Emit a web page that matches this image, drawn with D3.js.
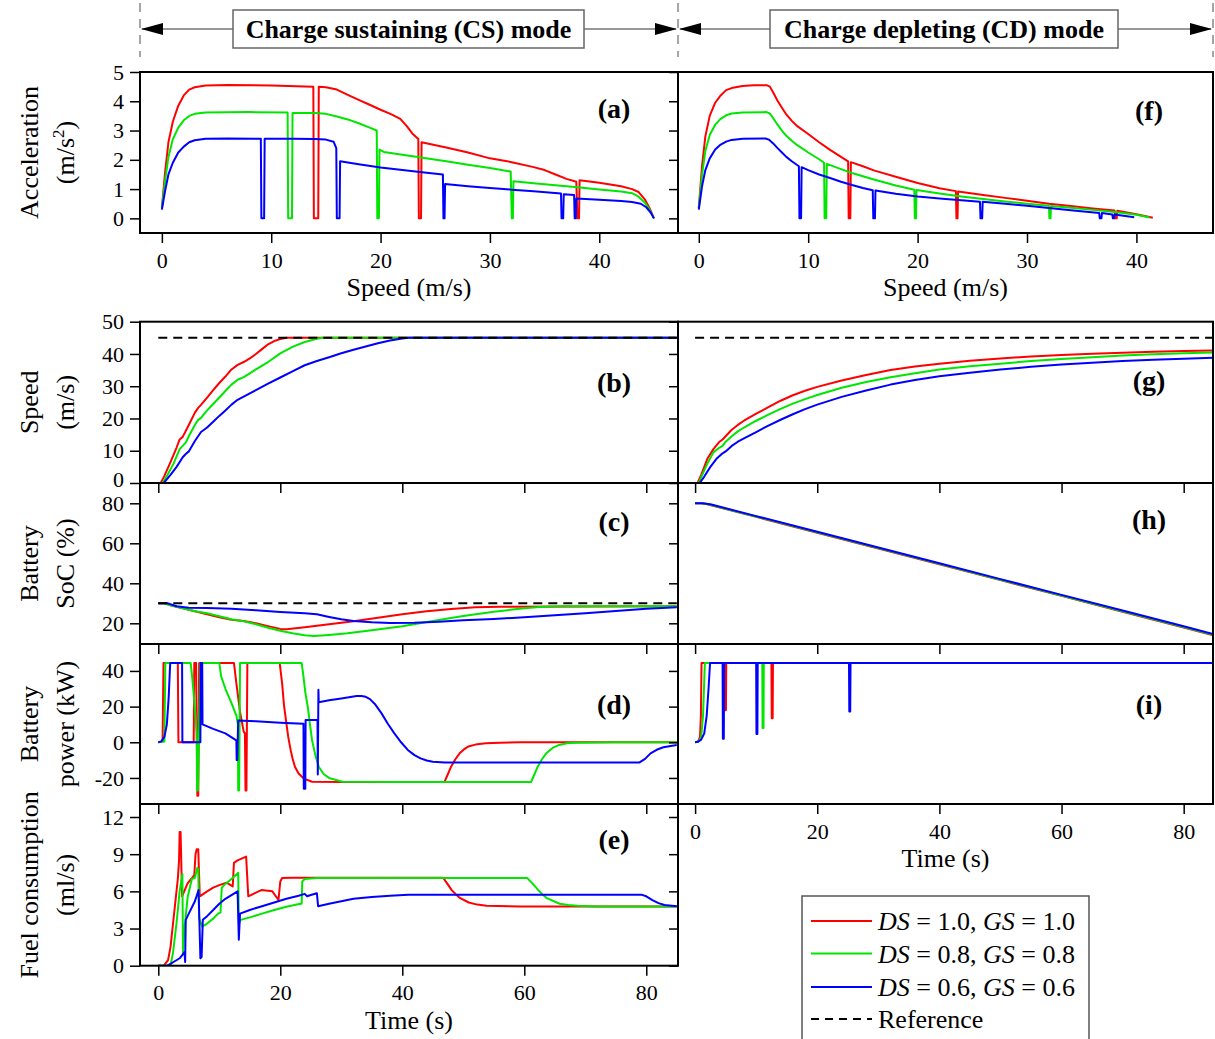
<!DOCTYPE html>
<html>
<head>
<meta charset="utf-8">
<script src="https://cdn.jsdelivr.net/npm/d3@7"></script>
<style>
  body { margin: 0; background: #fff; }
  svg text { font-family: "Liberation Serif", "Times New Roman", serif; fill: #000; }
</style>
</head>
<body>
<div id="graph"></div>
<script>
// ---------------- data ----------------
// scenario settings: DS = GS
let scenarioValues = ["1.0", "0.8", "0.6"];
let seriesColors = ["#ff0000", "#00e600", "#0000ff"];

// reference targets
let refSpeed = 45;
let refSoC = 30;
let refSpan = [0, 85];

// (a) CS acceleration vs speed
let accelCS_red = [[0,0.35],[0.3,1.6],[0.6,2.6],[1,3.3],[1.5,3.85],[2,4.2],[2.5,4.4],[3,4.48],[4,4.54],[6,4.56],[10,4.54],[13.85,4.5],[13.9,0],[14.3,0],[14.35,4.5],[15,4.48],[16,4.4],[17,4.22],[18,4.05],[19,3.88],[20,3.71],[21,3.55],[21.8,3.4],[22.4,3.15],[22.9,2.9],[23.3,2.76],[23.45,2.72],[23.5,0],[23.7,0],[23.75,2.6],[26,2.42],[28,2.25],[30,2.05],[32,1.92],[34,1.75],[35,1.65],[36,1.5],[37,1.35],[37.9,1.25],[38,0],[38.15,0],[38.2,1.3],[40,1.22],[42,1.1],[43,1.0],[43.6,0.9],[44.2,0.63],[44.6,0.35],[45,0]];
let accelCS_green = [[0,0.35],[0.3,1.3],[0.6,2.1],[1,2.7],[1.5,3.1],[2,3.35],[2.5,3.5],[3,3.57],[4,3.62],[8,3.63],[11.5,3.62],[11.55,0],[11.9,0],[11.95,3.6],[14,3.6],[15,3.57],[16,3.48],[17,3.38],[18,3.25],[19,3.1],[19.65,3.0],[19.7,0],[19.85,0],[19.9,2.35],[20.3,2.27],[22,2.17],[24,2.06],[26,1.95],[28,1.83],[30,1.72],[31.9,1.6],[32,0],[32.1,0],[32.15,1.27],[34,1.2],[36,1.13],[38,1.06],[40,0.99],[42,0.92],[43,0.86],[43.6,0.74],[44.2,0.52],[44.6,0.3],[45,0]];
let accelCS_blue = [[0,0.3],[0.3,0.95],[0.6,1.5],[1,1.9],[1.5,2.25],[2,2.45],[2.5,2.6],[3,2.67],[4,2.72],[6,2.73],[9.05,2.72],[9.1,0],[9.35,0],[9.4,2.72],[12,2.72],[14,2.71],[15,2.69],[15.7,2.62],[15.95,2.4],[16,0],[16.25,0],[16.3,1.95],[18,1.85],[20,1.74],[22,1.65],[24,1.57],[25.7,1.5],[25.75,0],[25.85,0],[25.9,1.17],[28,1.1],[30,1.04],[32,0.98],[34,0.93],[36.5,0.85],[36.55,0],[36.7,0],[36.75,0.82],[37.7,0.8],[37.75,0],[37.85,0],[37.9,0.68],[40,0.64],[42,0.59],[43,0.56],[43.8,0.5],[44.3,0.38],[44.7,0.2],[45,0]];

// (f) CD acceleration vs speed
let accelCD_red = [[0,0.35],[0.3,1.8],[0.6,2.8],[1,3.5],[1.5,3.95],[2,4.2],[2.5,4.38],[3,4.45],[4,4.52],[5,4.55],[6.2,4.55],[6.5,4.5],[6.8,4.3],[7.2,4.02],[7.6,3.78],[8,3.55],[8.5,3.33],[9,3.15],[10,2.88],[11,2.6],[12,2.34],[13,2.1],[13.65,1.95],[13.7,0],[13.85,0],[13.9,1.92],[15,1.78],[16,1.64],[18,1.42],[20,1.21],[22,1.03],[23.5,0.93],[23.55,0],[23.65,0],[23.7,0.92],[26,0.8],[28,0.7],[30,0.6],[32,0.5],[34,0.42],[36,0.34],[38,0.27],[38.05,0],[38.2,0],[38.25,0.26],[40,0.14],[41.5,0.02]];
let accelCD_green = [[0,0.35],[0.3,1.5],[0.6,2.3],[1,2.85],[1.5,3.2],[2,3.4],[2.5,3.52],[3,3.58],[4,3.62],[6.2,3.63],[6.5,3.58],[6.8,3.42],[7.2,3.2],[7.6,3.0],[8,2.82],[8.5,2.65],[9,2.5],[10,2.25],[11,2.02],[11.45,1.9],[11.5,0],[11.65,0],[11.7,1.86],[13,1.68],[14,1.55],[16,1.33],[18,1.12],[19.7,0.98],[19.75,0],[19.85,0],[19.9,0.97],[22,0.85],[24,0.75],[26,0.66],[28,0.58],[30,0.5],[32,0.43],[32.05,0],[32.15,0],[32.2,0.42],[34,0.36],[36,0.29],[38,0.22],[40,0.12],[41.2,0.03]];
let accelCD_blue = [[0,0.3],[0.3,1.1],[0.6,1.65],[1,2.05],[1.5,2.35],[2,2.52],[2.5,2.62],[3,2.68],[4,2.72],[6.1,2.73],[6.4,2.69],[6.8,2.56],[7.2,2.4],[7.6,2.25],[8,2.1],[8.5,1.95],[9.15,1.78],[9.2,0],[9.35,0],[9.4,1.75],[10,1.65],[11,1.5],[12,1.38],[13,1.25],[14,1.14],[15,1.04],[15.9,0.96],[15.95,0],[16.1,0],[16.15,0.95],[18,0.84],[20,0.75],[22,0.68],[24,0.62],[25.7,0.57],[25.75,0],[25.9,0],[25.95,0.57],[28,0.5],[30,0.43],[32,0.35],[34,0.28],[36.6,0.18],[36.65,0],[36.8,0],[36.85,0.18],[37.8,0.13],[37.85,0],[37.95,0],[38,0.13],[39.8,0.04]];

// (b) CS speed vs time
let speedCS_red = [[0.4,0],[1,2.2],[2,6.5],[3,11],[3.5,13.5],[4,14.3],[5,18],[6,21.8],[6.5,23.2],[7,24.2],[8,26.5],[9,28.8],[10,31],[11,33],[12,35.2],[13,36.6],[14,37.5],[15,38.6],[16,40],[17,41.5],[18,43],[19,44],[20,44.6],[21,45],[85,45]];
let speedCS_green = [[0.7,0],[1.5,2.5],[2.5,6],[3.5,10.5],[4,11.5],[4.5,12.5],[5,14.5],[6,18],[6.5,19.5],[7,20.2],[8,22.5],[9,24.5],[10,26.5],[11,28.5],[12,30.5],[13,32],[14,32.8],[15,34],[16,35.2],[18,37.5],[20,40.2],[22,42.2],[24,43.7],[26,44.7],[27,45],[85,45]];
let speedCS_blue = [[0.9,0],[2,2.5],[3,5],[4,8],[4.5,9],[5,9.8],[6,13],[7,15.8],[8,17.2],[9,19],[10,20.8],[11,22.5],[12,24.3],[13,25.8],[14,26.8],[16,28.8],[18,30.8],[20,32.7],[22,34.6],[24,36.5],[26,37.8],[28,39],[30,40.2],[32,41.3],[34,42.3],[36,43.3],[38,44.2],[40,44.8],[41,45],[85,45]];

// (g) CD speed vs time
let speedCD_red = [[0.4,0],[1,2.5],[1.5,5],[2,7.5],[3,10.5],[4,12.8],[4.5,13.5],[5,14.5],[6,16.5],[7,18],[8,19.3],[10,21.5],[12,23.5],[14,25.5],[16,27.2],[18,28.6],[20,29.8],[24,31.8],[28,33.5],[32,35],[36,36.1],[40,37],[45,37.9],[50,38.6],[55,39.2],[60,39.7],[65,40.1],[70,40.4],[75,40.7],[80,40.9],[85,41.1]];
let speedCD_green = [[0.6,0],[1,1.8],[2,6],[3,9.5],[4,11],[4.5,11.5],[5,12.8],[6,14.5],[7,16],[8,17.2],[10,19.3],[12,21.2],[14,23],[16,24.6],[18,26],[20,27.3],[24,29.5],[28,31.3],[32,32.8],[36,34],[40,35.2],[45,36.2],[50,37],[55,37.8],[60,38.4],[65,39],[70,39.5],[75,39.9],[80,40.2],[85,40.5]];
let speedCD_blue = [[0.75,0],[1.5,2],[2.5,5],[3.5,7.5],[4.5,9.2],[5,9.8],[6,11.5],[7,12.8],[8,13.8],[10,15.8],[12,17.8],[14,19.6],[16,21.3],[18,22.9],[20,24.3],[24,26.7],[28,28.7],[32,30.5],[36,31.9],[40,33.1],[45,34.2],[50,35.2],[55,36],[60,36.7],[65,37.3],[70,37.8],[75,38.2],[80,38.5],[85,38.8]];

// (c) CS battery SoC
let socCS_red = [[0,30],[1,30],[2,29],[4,27.5],[6,26],[8,24.5],[10,23],[12,21.8],[14,21.2],[16,20],[18,18.6],[20,17.2],[21,17],[24,18],[28,19.5],[32,21],[36,22.8],[40,24.5],[44,26],[48,27.2],[52,28],[56,28.3],[85,28.5]];
let socCS_green = [[0,30],[1,30],[2,29],[4,27.5],[6,26],[8,25],[10,23.5],[12,22],[14,21],[16,19.5],[18,17.8],[20,16.3],[22,15],[24,14],[25.5,13.7],[28,14.2],[31,15],[35,16.5],[40,18.5],[45,21.2],[50,23.6],[55,25.8],[60,27.5],[63,28.3],[66,28.5],[85,28.5]];
let socCS_blue = [[0,30],[1.5,30],[3,28.5],[5,27.8],[8,27.7],[12,27.3],[16,26.5],[20,25.7],[24,25],[26,24.5],[28,23.2],[30,22],[32,21.2],[35,20.5],[38,20.2],[42,20.3],[46,20.8],[50,21.5],[55,22.2],[60,23],[65,24],[70,25],[75,26.2],[80,27.3],[85,28]];

// (h) CD battery SoC
let socCD_red = [[0,80],[1,80],[2,79.5],[10,73.2],[20,65.3],[30,57.4],[40,49.5],[50,41.6],[60,33.7],[70,25.8],[80,17.9],[85,13.9]];
let socCD_green = [[0,80],[1,80],[2,79.6],[10,73.4],[20,65.5],[30,57.6],[40,49.7],[50,41.8],[60,33.9],[70,26],[80,18.1],[85,14.1]];
let socCD_blue = [[0,80],[1.2,80],[2.5,79.5],[10,73.6],[20,65.8],[30,57.9],[40,50],[50,42.1],[60,34.2],[70,26.4],[80,18.5],[85,14.5]];

// (d) CS battery power
let powerCS_red = [[0,0],[0.7,0.5],[0.85,44.5],[3.2,44.5],[3.3,0],[5.8,0],[5.9,44.5],[6.2,44.5],[6.4,-30],[6.55,-30],[6.7,44.5],[12.4,44.5],[12.8,33],[13.4,17],[14,6],[14.2,5],[14.3,-27],[14.45,-27],[14.6,44.5],[19.9,44.5],[20.3,33],[20.6,21],[21,10.6],[21.3,3],[21.7,-4.4],[22,-9],[22.4,-13.7],[23,-17.5],[23.8,-20.2],[25.2,-22.1],[30,-22.3],[46.9,-22.3],[47.4,-18.5],[48,-13.7],[48.7,-9.5],[49.4,-6.2],[50.1,-4],[50.8,-2.4],[52,-1.3],[53.7,-0.6],[56,-0.2],[59.3,0],[85,0]];
let powerCS_green = [[0,0],[1,0.5],[1.15,44.5],[5.3,44.5],[5.6,35],[6.1,15],[6.3,5],[6.35,-27],[6.5,-27],[6.9,44.5],[10,44.5],[10.3,37],[11,30],[12,22],[12.8,15],[13.05,10],[13.1,-27],[13.25,-27],[13.4,44.5],[23.5,44.5],[23.8,36.8],[24.1,28],[24.5,20],[24.9,9],[25.2,1.3],[25.7,-6.5],[26.3,-13.7],[27.1,-17.8],[28.1,-20.2],[30.2,-22.1],[40,-22.3],[61.1,-22.3],[61.6,-18.5],[62.2,-13.7],[62.9,-9.5],[63.6,-6.2],[64.6,-3.3],[65.7,-1.5],[67,-0.6],[68.6,-0.2],[75,0],[85,0]];
let powerCS_blue = [[0,0],[0.5,0.5],[1,3],[1.4,10],[1.7,25],[1.95,44.5],[3.9,44.5],[3.95,0],[6.9,0],[6.95,44.5],[7.2,44.5],[7.25,10],[9,7.5],[11,5],[12.6,1.5],[12.8,1],[12.85,-10],[12.95,-10],[13.1,12.2],[16,11.8],[20,11],[23.8,10.4],[23.85,-26],[24.1,-26],[24.15,12.5],[26.1,12.5],[26.15,-18],[26.25,29.5],[26.3,22.5],[28,23.6],[30,24.6],[31.5,25.4],[32.5,25.9],[33.3,26],[34,25.5],[34.7,24.2],[35.5,21.5],[36.6,16.2],[37.6,10.5],[38.7,5],[39.8,0],[40.9,-4.3],[42,-7.2],[43,-9],[44,-10.2],[45,-10.9],[47,-11.3],[78.9,-11.3],[79.8,-9.3],[80.7,-6.2],[81.7,-4.2],[82.8,-2.8],[85,-1.5]];

// (i) CD battery power
let powerCD_red = [[0,0],[0.5,0.5],[0.8,3],[0.95,15],[1.05,44.5],[4.85,44.5],[4.9,18],[5.05,18],[5.1,44.5],[12.5,44.5],[12.55,13.5],[12.7,13.5],[12.75,44.5],[85,44.5]];
let powerCD_green = [[0,0],[0.6,0.5],[1,3],[1.3,15],[1.6,44.5],[11,44.5],[11.05,8],[11.2,8],[11.25,44.5],[85,44.5]];
let powerCD_blue = [[0,0],[0.5,0.3],[1,1.5],[1.5,5],[1.9,15],[2.2,30],[2.45,44.5],[4.5,44.5],[4.55,2],[4.7,2],[4.75,44.5],[10,44.5],[10.05,4.7],[10.2,4.7],[10.25,44.5],[25.2,44.5],[25.25,17.3],[25.4,17.3],[25.45,44.5],[85,44.5]];

// (e) CS fuel consumption
let fuelCS_red = [[0,0],[0.9,0],[1.6,0.45],[2,1.5],[3.2,7],[3.4,8.5],[3.5,10.8],[3.65,10.8],[3.9,5.6],[4.8,6.65],[5.9,7.3],[6.1,9.0],[6.3,9.4],[6.55,9.4],[6.8,5.6],[8,6.0],[9,6.3],[10,6.5],[11.2,6.7],[12.2,6.4],[12.4,8.3],[13,8.5],[14.4,8.8],[14.75,5.6],[16,5.9],[16.9,6.1],[18,6.05],[18.7,6.0],[19.7,5.3],[20,6.8],[20.3,7.07],[22,7.1],[46.7,7.1],[47.4,6.6],[48.1,6.1],[48.8,5.75],[49.5,5.45],[50.9,5.1],[52.3,4.93],[53.8,4.83],[59.4,4.77],[85,4.77]];
let fuelCS_green = [[0,0],[2,0],[2.4,1],[3,3.5],[3.5,6],[3.95,7.4],[4.05,1],[4.3,3],[4.8,5.5],[5.5,7],[6,7.1],[6.2,7.5],[6.4,7.9],[6.55,7.8],[6.7,3.8],[7.2,3.15],[8,3.4],[9,3.8],[9.8,4.2],[10.2,4.3],[10.4,6.3],[11,6.6],[12,7],[13.1,7.5],[13.2,3.4],[13.5,3.7],[15,3.9],[17,4.2],[19,4.5],[21,4.75],[23.3,5],[23.5,5],[23.6,6.8],[24,7],[26,7.07],[60.5,7.07],[61.4,6.6],[62.3,6.1],[63,5.75],[63.7,5.45],[65.8,5],[67.2,4.9],[68.7,4.83],[72,4.78],[85,4.77]];
let fuelCS_blue = [[0,0],[1.5,0],[2.5,0.3],[3.5,0.6],[4.3,1.1],[4.4,0.3],[4.5,3.7],[5,4.2],[6,5.2],[6.6,6.1],[6.9,0.6],[7.1,0.7],[7.3,3.7],[8,4],[9,4.5],[10,5],[11,5.4],[12,5.7],[13,6],[13.2,2.1],[13.4,4.2],[15,4.5],[17,4.8],[19,5.1],[21,5.4],[23,5.65],[24,5.8],[24.4,5.6],[25,5.7],[26,5.85],[26.2,4.8],[28,5],[30,5.2],[32,5.4],[35,5.55],[38,5.65],[41,5.72],[79.3,5.72],[80,5.6],[81,5.3],[82,5.05],[83,4.9],[85,4.8]];

// tick values
let accelTicks = [0, 1, 2, 3, 4, 5];
let speedAxisTicks = [0, 10, 20, 30, 40];
let speedTicks = [0, 10, 20, 30, 40, 50];
let socTicks = [20, 40, 60, 80];
let powerTicks = [-20, 0, 20, 40];
let fuelTicks = [0, 3, 6, 9, 12];
let timeTicks = [0, 20, 40, 60, 80];

// ---------------- layout ----------------
let W = 1215, H = 1039;
let leftX0 = 140, midX = 678, rightX1 = 1213;

let svg = d3.select("#graph").append("svg").attr("width", W).attr("height", H);

let panels = [
  { id: "a", x0: leftX0, x1: midX, y0: 72, y1: 233, xDom: [-2, 47.2], yDom: [-0.5, 5],
    yTicks: accelTicks, xTicks: speedAxisTicks, xLabels: true, xTitle: "Speed (m/s)",
    yTitle: ["Acceleration", "(m/s2)"], label: "(a)", labFrac: 0.23,
    series: [accelCS_red, accelCS_green, accelCS_blue] },
  { id: "f", x0: midX, x1: rightX1, y0: 72, y1: 233, xDom: [-1.9, 47], yDom: [-0.5, 5],
    yTicks: null, xTicks: speedAxisTicks, xLabels: true, xTitle: "Speed (m/s)",
    label: "(f)", labFrac: 0.24, series: [accelCD_red, accelCD_green, accelCD_blue] },
  { id: "b", x0: leftX0, x1: midX, y0: 321.7, y1: 483, xDom: [-3, 85.2], yDom: [0, 50],
    yTicks: speedTicks, xTicks: timeTicks, xLabels: false, yTitle: ["Speed", "(m/s)"],
    label: "(b)", labFrac: 0.38, ref: refSpeed, liftZero: true,
    series: [speedCS_red, speedCS_green, speedCS_blue] },
  { id: "g", x0: midX, x1: rightX1, y0: 321.7, y1: 483, xDom: [-2.8, 84.8], yDom: [0, 50],
    yTicks: null, xTicks: timeTicks, xLabels: false, label: "(g)", labFrac: 0.37, ref: refSpeed,
    series: [speedCD_red, speedCD_green, speedCD_blue] },
  { id: "c", x0: leftX0, x1: midX, y0: 483, y1: 644, xDom: [-3, 85.2], yDom: [9.65, 90.15],
    yTicks: socTicks, xTicks: timeTicks, xLabels: false, yTitle: ["Battery", "SoC (%)"],
    label: "(c)", labFrac: 0.24, ref: refSoC, series: [socCS_red, socCS_green, socCS_blue] },
  { id: "h", x0: midX, x1: rightX1, y0: 483, y1: 644, xDom: [-2.8, 84.8], yDom: [9.65, 90.15],
    yTicks: null, xTicks: timeTicks, xLabels: false, label: "(h)", labFrac: 0.23,
    series: [socCD_red, socCD_green, socCD_blue] },
  { id: "d", x0: leftX0, x1: midX, y0: 644, y1: 804, xDom: [-3, 85.2], yDom: [-34.6, 55.1],
    yTicks: powerTicks, xTicks: timeTicks, xLabels: false, yTitle: ["Battery", "power (kW)"],
    label: "(d)", labFrac: 0.38, series: [powerCS_red, powerCS_green, powerCS_blue] },
  { id: "i", x0: midX, x1: rightX1, y0: 644, y1: 804, xDom: [-2.8, 84.8], yDom: [-34.6, 55.1],
    yTicks: null, xTicks: timeTicks, xLabels: true, xTitle: "Time (s)", label: "(i)", labFrac: 0.38,
    series: [powerCD_red, powerCD_green, powerCD_blue] },
  { id: "e", x0: leftX0, x1: midX, y0: 804, y1: 965.7, xDom: [-3, 85.2], yDom: [0, 13.05],
    yTicks: fuelTicks, xTicks: timeTicks, xLabels: true, xTitle: "Time (s)",
    yTitle: ["Fuel consumption", "(ml/s)"], label: "(e)", labFrac: 0.22,
    series: [fuelCS_red, fuelCS_green, fuelCS_blue] },
];

function styleAxis(sel) {
  sel.select(".domain").remove();
  sel.selectAll("line").attr("stroke", "#000").attr("stroke-width", 1.5);
  sel.selectAll("text")
    .style("font-family", '"Liberation Serif", "Times New Roman", serif')
    .style("font-size", "22px");
}

function drawPanel(p) {
  let x = d3.scaleLinear().domain(p.xDom).range([p.x0, p.x1]);
  let y = d3.scaleLinear().domain(p.yDom).range([p.y1, p.y0]);
  let g = svg.append("g").attr("id", "panel-" + p.id);

  // clip to frame
  let clipId = "clip-" + p.id;
  svg.append("clipPath").attr("id", clipId).append("rect")
    .attr("x", p.x0).attr("y", p.y0).attr("width", p.x1 - p.x0).attr("height", p.y1 - p.y0);

  let line = d3.line().x(d => x(d[0])).y(d => y(d[1]));
  let plot = g.append("g").attr("clip-path", `url(#${clipId})`);
  p.series.forEach((s, i) => {
    plot.append("path").datum(s).attr("d", line)
      .attr("fill", "none").attr("stroke", seriesColors[i])
      .attr("stroke-width", 2).attr("stroke-linejoin", "round");
  });
  // reference line drawn last, on top
  if (p.ref != null) {
    plot.append("path").datum(refSpan.map(t => [t, p.ref])).attr("d", line)
      .attr("fill", "none").attr("stroke", "#000").attr("stroke-width", 2)
      .attr("stroke-dasharray", "9,6");
  }

  // bottom axis, outward ticks
  let axb = d3.axisBottom(x).tickValues(p.xTicks).tickSize(10).tickPadding(9).tickSizeOuter(0)
    .tickFormat(p.xLabels ? d => String(d) : "");
  g.append("g").attr("transform", `translate(0,${p.y1})`).call(axb).call(styleAxis);

  // left axis with labels, right axis mirrored inward
  if (p.yTicks) {
    let axl = d3.axisLeft(y).tickValues(p.yTicks).tickSize(10).tickPadding(6).tickSizeOuter(0)
      .tickFormat(d => String(d));
    let gl = g.append("g").attr("transform", `translate(${p.x0},0)`).call(axl).call(styleAxis);
    // keep the bottom "0" clear of the panel below
    if (p.liftZero) gl.selectAll(".tick text").filter(d => d === 0).attr("dy", "0.18em");
    let axr = d3.axisRight(y).tickValues(p.yTicks).tickSize(-9).tickSizeOuter(0).tickFormat("");
    g.append("g").attr("transform", `translate(${p.x1},0)`).call(axr).call(styleAxis);
  }

  // frame
  g.append("rect").attr("x", p.x0).attr("y", p.y0)
    .attr("width", p.x1 - p.x0).attr("height", p.y1 - p.y0)
    .attr("fill", "none").attr("stroke", "#000").attr("stroke-width", 2);

  // panel label
  g.append("text").attr("x", p.x1 - 64).attr("y", p.y0 + p.labFrac * (p.y1 - p.y0) + 9)
    .attr("text-anchor", "middle").style("font-size", "28px").style("font-weight", "bold")
    .text(p.label);

  // x title
  if (p.xTitle) {
    g.append("text").attr("x", (p.x0 + p.x1) / 2).attr("y", p.y1 + 63)
      .attr("text-anchor", "middle").style("font-size", "26px").text(p.xTitle);
  }

  // y title, two lines rotated
  if (p.yTitle) {
    let cy = (p.y0 + p.y1) / 2;
    [38, 74].forEach((bx, k) => {
      let t = g.append("text").attr("transform", `translate(${bx},${cy}) rotate(-90)`)
        .attr("text-anchor", "middle").style("font-size", "26px");
      let s = p.yTitle[k];
      if (s.endsWith("2)")) {
        t.append("tspan").text(s.slice(0, -2));
        t.append("tspan").attr("dy", -10).style("font-size", "17px").text("2");
        t.append("tspan").attr("dy", 10).text(")");
      } else {
        t.text(s);
      }
    });
  }
}

panels.forEach(drawPanel);

// ---------------- header: mode arrows ----------------
let header = svg.append("g");
[leftX0, midX, rightX1].forEach(xv => {
  header.append("line").attr("x1", xv).attr("x2", xv).attr("y1", 3).attr("y2", 57)
    .attr("stroke", "#888").attr("stroke-width", 1.5).attr("stroke-dasharray", "9,7");
});
let modes = [
  { text: "Charge sustaining (CS) mode", x0: leftX0, x1: midX, bx0: 233, bx1: 584 },
  { text: "Charge depleting (CD) mode", x0: midX, x1: rightX1, bx0: 770, bx1: 1118 },
];
let ay = 29;
modes.forEach(m => {
  header.append("line").attr("x1", m.x0 + 2).attr("x2", m.x1 - 2).attr("y1", ay).attr("y2", ay)
    .attr("stroke", "#333").attr("stroke-width", 1.2);
  header.append("path")
    .attr("d", `M${m.x0 + 1},${ay} L${m.x0 + 23},${ay - 6} L${m.x0 + 23},${ay + 6} Z`).attr("fill", "#000");
  header.append("path")
    .attr("d", `M${m.x1 - 1},${ay} L${m.x1 - 23},${ay - 6} L${m.x1 - 23},${ay + 6} Z`).attr("fill", "#000");
  header.append("rect").attr("x", m.bx0).attr("y", 10).attr("width", m.bx1 - m.bx0).attr("height", 38)
    .attr("fill", "#fff").attr("stroke", "#666").attr("stroke-width", 1.5);
  header.append("text").attr("x", (m.bx0 + m.bx1) / 2).attr("y", 38)
    .attr("text-anchor", "middle").style("font-size", "26px").style("font-weight", "bold").text(m.text);
});

// ---------------- legend ----------------
let legend = svg.append("g");
legend.append("rect").attr("x", 802).attr("y", 896).attr("width", 287).attr("height", 170)
  .attr("fill", "#fff").attr("stroke", "#555").attr("stroke-width", 1.5);
let rowY = [921, 953.5, 987, 1019];
scenarioValues.forEach((v, i) => {
  legend.append("line").attr("x1", 811).attr("x2", 872).attr("y1", rowY[i]).attr("y2", rowY[i])
    .attr("stroke", seriesColors[i]).attr("stroke-width", 2);
  let t = legend.append("text").attr("x", 878).attr("y", rowY[i] + 9).style("font-size", "26px");
  t.append("tspan").style("font-style", "italic").text("DS");
  t.append("tspan").text(" = " + v + ", ");
  t.append("tspan").style("font-style", "italic").text("GS");
  t.append("tspan").text(" = " + v);
});
legend.append("line").attr("x1", 811).attr("x2", 872).attr("y1", rowY[3]).attr("y2", rowY[3])
  .attr("stroke", "#000").attr("stroke-width", 2).attr("stroke-dasharray", "8,6");
legend.append("text").attr("x", 878).attr("y", rowY[3] + 9).style("font-size", "26px").text("Reference");
</script>
</body>
</html>
